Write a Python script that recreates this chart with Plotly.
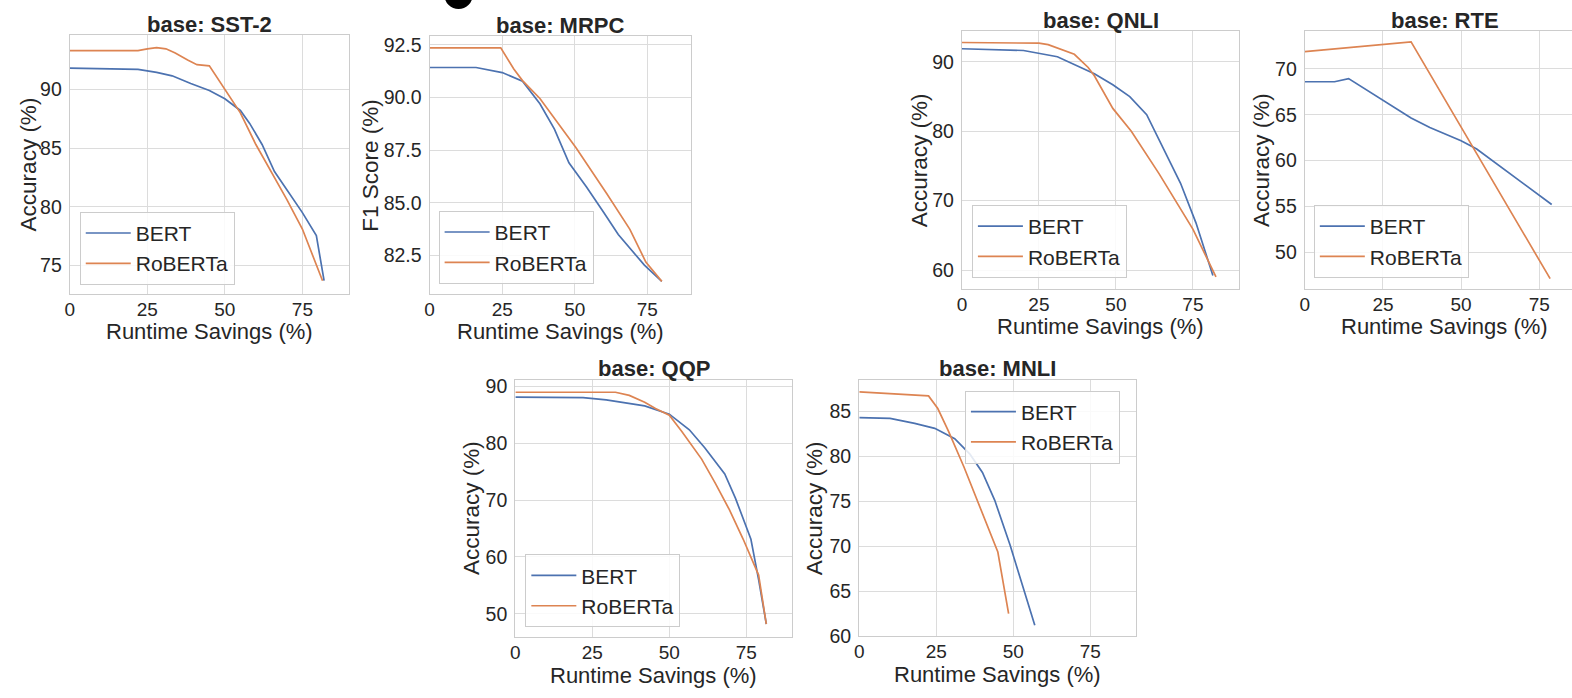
import plotly.graph_objects as go

W, H = 1572, 698

# ---------------- data ----------------
sst2_bert_x = [0, 10, 22, 28, 33, 39, 45, 50, 55, 58, 62, 66, 70, 75, 79.5, 82]
sst2_bert_y = [91.8, 91.75, 91.7, 91.45, 91.15, 90.5, 89.9, 89.2, 88.2, 87.1, 85.3, 83.0, 81.4, 79.5, 77.55, 73.7]
sst2_rob_x = [0, 10, 22, 25, 28, 31, 34, 38, 41, 45, 50, 55, 60, 65, 70, 75, 81.5]
sst2_rob_y = [93.3, 93.3, 93.3, 93.45, 93.55, 93.45, 93.1, 92.5, 92.1, 92.0, 90.0, 88.0, 85.3, 83.0, 80.6, 78.1, 73.7]

mrpc_bert_x = [0, 16, 25, 32, 38, 43, 48, 54, 60, 65, 74, 80]
mrpc_bert_y = [91.42, 91.42, 91.18, 90.77, 89.7, 88.5, 86.9, 85.77, 84.55, 83.5, 82.05, 81.28]
mrpc_rob_x = [0, 24.5, 29, 32, 38, 45, 50.5, 61, 69, 74.5, 80]
mrpc_rob_y = [92.35, 92.35, 91.35, 90.8, 89.95, 88.6, 87.6, 85.45, 83.75, 82.2, 81.28]

qnli_bert_x = [0, 20, 31, 36, 43, 49, 54.5, 60, 66, 71, 76, 81.5]
qnli_bert_y = [91.9, 91.65, 90.75, 89.7, 88.3, 86.7, 85.0, 82.4, 77.0, 72.5, 66.8, 59.2]
qnli_rob_x = [0, 25, 28, 36.5, 41, 43, 49, 55, 64, 75, 82.5]
qnli_rob_y = [92.8, 92.7, 92.5, 91.1, 89.2, 88.0, 83.3, 80.0, 73.9, 65.9, 59.0]

rte_bert_x = [0, 9.5, 14, 34, 40, 50, 55, 79]
rte_bert_y = [68.6, 68.6, 68.95, 64.65, 63.6, 62.15, 61.25, 55.2]
rte_rob_x = [0, 34, 78.5]
rte_rob_y = [71.9, 72.95, 47.1]

qqp_bert_x = [0, 22, 29.5, 35, 42, 50, 56.5, 61.5, 68, 71.5, 76.5, 79, 81.5]
qqp_bert_y = [88.1, 88.0, 87.6, 87.1, 86.55, 85.1, 82.35, 79.2, 74.6, 70.3, 63.1, 56.0, 48.2]
qqp_rob_x = [0, 32.5, 37, 42, 45.5, 50, 54, 60.5, 65, 69.5, 74, 79, 81.5]
qqp_rob_y = [88.95, 88.95, 88.4, 87.2, 86.1, 84.9, 82.1, 77.2, 72.9, 68.3, 63.1, 56.8, 48.2]

mnli_bert_x = [0, 10, 18, 24.5, 31, 36, 40, 44, 49, 57]
mnli_bert_y = [84.3, 84.2, 83.65, 83.1, 81.95, 80.2, 78.2, 75.1, 70.1, 61.2]
mnli_rob_x = [0, 22.5, 25.5, 29, 34, 39.5, 45, 48.5]
mnli_rob_y = [87.15, 86.7, 85.3, 82.75, 78.8, 74.1, 69.35, 62.5]

x_ticks = [0, 25, 50, 75]
series_names = ["BERT", "RoBERTa"]

panels = [
    dict(title="base: SST-2", ylabel="Accuracy (%)",
         data=[(sst2_bert_x, sst2_bert_y), (sst2_rob_x, sst2_rob_y)],
         box=(65, 345, 32, 296), xr=[0, 90], yr=[72.6, 94.6],
         yt=[75, 80, 85, 90], yfmt="d", ylab_off=41, leg=(75, 287, "bottom"), right=True),
    dict(title="base: MRPC", ylabel="F1 Score (%)",
         data=[(mrpc_bert_x, mrpc_bert_y), (mrpc_rob_x, mrpc_rob_y)],
         box=(426, 688, 33, 296), xr=[0, 90], yr=[80.7, 92.9],
         yt=[82.5, 85.0, 87.5, 90.0, 92.5], yfmt=".1f", ylab_off=59, leg=(435, 286, "bottom"), right=True),
    dict(title="base: QNLI", ylabel="Accuracy (%)",
         data=[(qnli_bert_x, qnli_bert_y), (qnli_rob_x, qnli_rob_y)],
         box=(960, 1238, 28, 291), xr=[0, 90], yr=[57.3, 94.4],
         yt=[60, 70, 80, 90], yfmt="d", ylab_off=43, leg=(970, 280, "bottom"), right=True),
    dict(title="base: RTE", ylabel="Accuracy (%)",
         data=[(rte_bert_x, rte_bert_y), (rte_rob_x, rte_rob_y)],
         box=(1304, 1572, 28, 291), xr=[0, 85.5], yr=[46, 74.1],
         yt=[50, 55, 60, 65, 70], yfmt="d", ylab_off=44, leg=(1313, 280, "bottom"), right=False),
    dict(title="base: QQP", ylabel="Accuracy (%)",
         data=[(qqp_bert_x, qqp_bert_y), (qqp_rob_x, qqp_rob_y)],
         box=(512, 790, 384, 647), xr=[0, 90], yr=[45.9, 91.15],
         yt=[50, 60, 70, 80, 90], yfmt="d", ylab_off=44, leg=(522, 637, "bottom"), right=True),
    dict(title="base: MNLI", ylabel="Accuracy (%)",
         data=[(mnli_bert_x, mnli_bert_y), (mnli_rob_x, mnli_rob_y)],
         box=(857, 1135, 384, 646), xr=[0, 90], yr=[60, 88.5],
         yt=[60, 65, 70, 75, 80, 85], yfmt="d", ylab_off=44, leg=(963, 395, "top"), right=True),
]

colors = ["#4C72B0", "#DD8452"]
FONT = "Liberation Sans, Arial, Helvetica, sans-serif"
TXT = "#262626"
GRID = "#dcdcdc"
EDGE = "#cccccc"

def fx(p):
    return p / W

def fy(p):
    return 1 - p / H

fig = go.Figure()
layout = dict(
    width=W, height=H, margin=dict(l=0, r=0, t=0, b=0),
    paper_bgcolor="white", plot_bgcolor="white",
    font=dict(family=FONT, color=TXT),
    showlegend=True,
)
annotations = []
shapes = []

for i, p in enumerate(panels):
    n = i + 1
    sx = "" if n == 1 else str(n)
    x0, x1, y0, y1 = p["box"]
    legname = "legend" if n == 1 else f"legend{n}"
    for j, (xs, ys) in enumerate(p["data"]):
        fig.add_trace(go.Scatter(
            x=xs, y=ys, mode="lines", name=series_names[j],
            line=dict(color=colors[j], width=1.7),
            xaxis=f"x{sx}", yaxis=f"y{sx}", legend=legname,
        ))
    layout[f"xaxis{sx}"] = dict(
        domain=[fx(x0), min(fx(x1), 1.0)], anchor=f"y{sx}", range=p["xr"],
        tickvals=x_ticks, showgrid=True, gridcolor=GRID, gridwidth=1,
        showline=True, linecolor=EDGE, linewidth=1.3, mirror=True,
        ticks="", zeroline=False, tickfont=dict(size=19, color=TXT, family=FONT),
        ticklabelstandoff=-2,
    )
    layout[f"yaxis{sx}"] = dict(
        domain=[fy(y1), fy(y0)], anchor=f"x{sx}", range=p["yr"],
        tickvals=p["yt"], tickformat=p["yfmt"], showgrid=True, gridcolor=GRID, gridwidth=1,
        showline=True, linecolor=EDGE, linewidth=1.3, mirror=p["right"],
        ticks="", zeroline=False, tickfont=dict(size=19.5, color=TXT, family=FONT),
        ticklabelstandoff=3,
    )
    lx, ly, anc = p["leg"]
    layout[legname] = dict(
        x=fx(lx), y=fy(ly), xanchor="left", yanchor=anc,
        xref="paper", yref="paper",
        bgcolor="rgba(255,255,255,0.85)", bordercolor=EDGE, borderwidth=1,
        font=dict(size=21, color=TXT, family=FONT), itemwidth=45,
        tracegroupgap=0,
    )
    if p["right"]:
        cx = (x0 + x1) / 2
    else:
        cx = (x0 + 1585) / 2
    annotations.append(dict(
        text=f"<b>{p['title']}</b>", x=fx(cx), y=fy(y0 - 11), xref="paper", yref="paper",
        xanchor="center", yanchor="middle", showarrow=False,
        font=dict(size=22, color=TXT, family=FONT),
    ))
    annotations.append(dict(
        text=p["ylabel"], x=fx(x0 - p["ylab_off"]), y=fy((y0 + y1) / 2), xref="paper", yref="paper",
        xanchor="center", yanchor="middle", textangle=-90, showarrow=False,
        font=dict(size=22.5, color=TXT, family=FONT),
    ))
    annotations.append(dict(
        text="Runtime Savings (%)", x=fx(cx), y=fy(y1 + 39), xref="paper", yref="paper",
        xanchor="center", yanchor="middle", showarrow=False,
        font=dict(size=22, color=TXT, family=FONT),
    ))

# cropped black blob at the top edge of the source image
shapes.append(dict(type="circle", xref="paper", yref="paper",
                   x0=fx(441), x1=fx(469), y0=fy(5), y1=fy(-22),
                   fillcolor="black", line=dict(width=0)))

layout["annotations"] = annotations
layout["shapes"] = shapes
fig.update_layout(**layout)
fig.write_html("out.html")
